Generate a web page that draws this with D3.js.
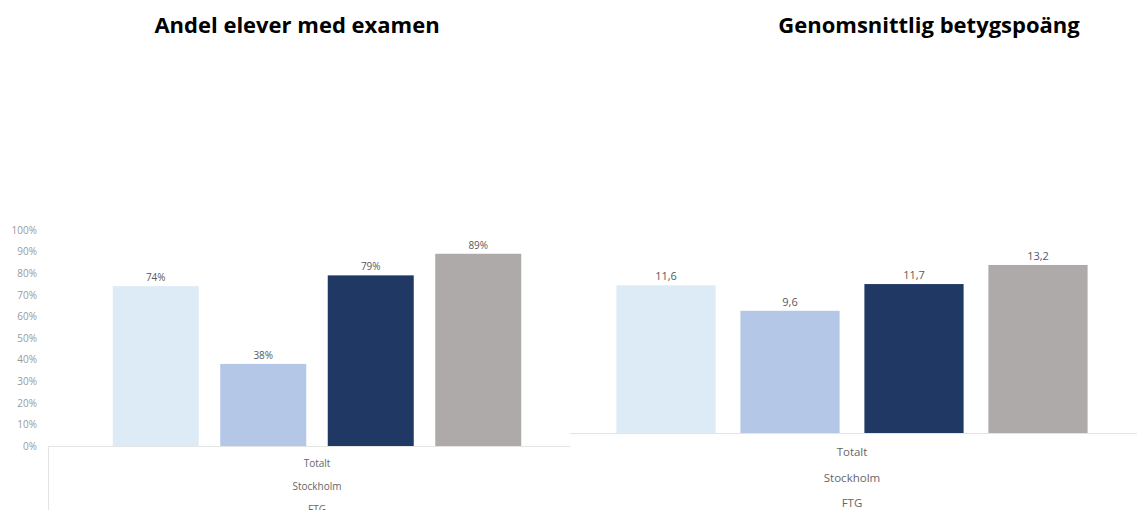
<!DOCTYPE html>
<html>
<head>
<meta charset="utf-8">
<script src="https://cdn.jsdelivr.net/npm/d3@7"></script>
<style>
  body { margin: 0; background: #fff; }
  text { font-family: "Open Sans", "Lato", sans-serif; }
</style>
</head>
<body>
<div id="chart"></div>
<script>
var series = ["Totalt", "Stockholm", "FTG", "Övrigt"];
var series_labels = ["Totalt", "Stockholm", "FTG"];
var colors = ["#ddebf7", "#b4c7e7", "#203864", "#aeaaaa"];
var exam_share = [0.74, 0.38, 0.79, 0.89];
var grade_points = [11.6, 9.6, 11.7, 13.2];
var pct_ticks = [0, 0.1, 0.2, 0.3, 0.4, 0.5, 0.6, 0.7, 0.8, 0.9, 1.0];
var titles = ["Andel elever med examen", "Genomsnittlig betygspoäng"];

var svg = d3.select("#chart")
  .append("svg")
  .attr("width", 1137)
  .attr("height", 510);

// titles
svg.append("text")
  .attr("x", 297).attr("y", 33)
  .attr("text-anchor", "middle")
  .style("font-weight", "bold")
  .style("font-size", "22px")
  .text(titles[0]);
svg.append("text")
  .attr("x", 929).attr("y", 33)
  .attr("text-anchor", "middle")
  .style("font-weight", "bold")
  .style("font-size", "22px")
  .text(titles[1]);

function bar_chart(cfg) {
  var x = d3.scaleBand()
    .domain(series)
    .range(cfg.xrange)
    .paddingInner(0.2)
    .paddingOuter(0.1);
  var y = d3.scaleLinear().domain(cfg.ydomain).range(cfg.yrange);
  var g = svg.append("g");

  // category axis line
  g.append("line")
    .attr("x1", cfg.line_x[0]).attr("x2", cfg.line_x[1])
    .attr("y1", y(0) + 0.5).attr("y2", y(0) + 0.5)
    .style("stroke", "#e4e4e4");

  g.selectAll("rect.bar")
    .data(cfg.values)
    .enter().append("rect")
    .attr("class", "bar")
    .attr("x", (d, i) => x(series[i]))
    .attr("width", x.bandwidth())
    .attr("y", d => y(d))
    .attr("height", d => y(0) - y(d))
    .style("fill", (d, i) => colors[i]);

  g.selectAll("text.val")
    .data(cfg.values)
    .enter().append("text")
    .attr("class", "val")
    .attr("x", (d, i) => x(series[i]) + x.bandwidth() / 2)
    .attr("y", d => y(d) - 5)
    .attr("text-anchor", "middle")
    .style("font-size", cfg.val_size)
    .style("fill", "#595959")
    .text(cfg.fmt);

  var cx = (x(series[0]) + x(series[series.length - 1]) + x.bandwidth()) / 2;
  g.selectAll("text.cat")
    .data(series_labels)
    .enter().append("text")
    .attr("class", "cat")
    .attr("x", cx)
    .attr("y", (d, i) => y(0) + cfg.cat_y0 + i * cfg.cat_step)
    .attr("text-anchor", "middle")
    .style("font-size", cfg.cat_size)
    .style("fill", "#666")
    .text(d => d);

  return {g: g, x: x, y: y};
}

var left = bar_chart({
  values: exam_share,
  xrange: [102, 532],
  ydomain: [0, 1],
  yrange: [446, 230],
  line_x: [48, 570],
  val_size: "10px",
  cat_size: "10px",
  cat_y0: 21,
  cat_step: 23,
  fmt: d3.format(".0%")
});

// y axis (percent), left chart only
var yaxis = d3.axisLeft(left.y)
  .tickValues(pct_ticks)
  .tickFormat(d3.format(".0%"))
  .tickSize(0)
  .tickPadding(3);
svg.append("g")
  .attr("transform", "translate(40,0)")
  .call(yaxis)
  .call(a => a.select(".domain").remove())
  .call(a => a.selectAll("text")
    .style("font-family", "'Open Sans', sans-serif")
    .style("font-size", "10px")
    .style("fill", "#9a9a9a"));

// thin vertical border of the category table
svg.append("line")
  .attr("x1", 48.5).attr("x2", 48.5)
  .attr("y1", 446).attr("y2", 510)
  .style("stroke", "#e4e4e4");

var right = bar_chart({
  values: grade_points,
  xrange: [604, 1100],
  ydomain: [0, 14],
  yrange: [433, 433 - 14 * 12.73],
  line_x: [570, 1137],
  val_size: "11px",
  cat_size: "11.5px",
  cat_y0: 23,
  cat_step: 25.5,
  fmt: d => d3.format(".1f")(d).replace(".", ",")
});
</script>
</body>
</html>
